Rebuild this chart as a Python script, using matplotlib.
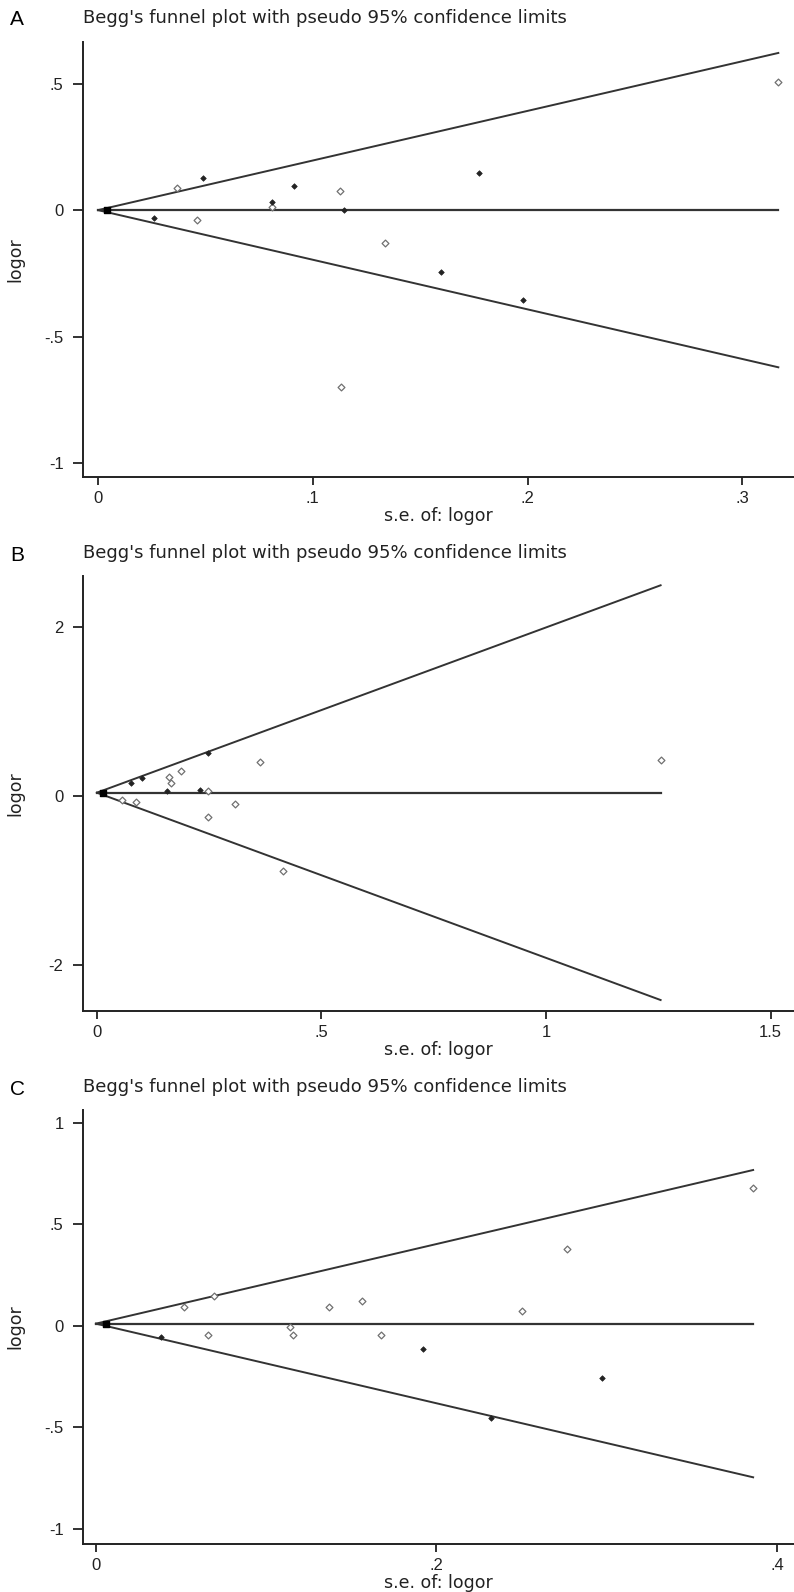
import numpy as np
import matplotlib
matplotlib.use("Agg")
import matplotlib.pyplot as plt

plt.rcParams['font.family'] = ['Liberation Sans', 'DejaVu Sans']

# panel A: study s.e. and log odds ratios
a_se_open = [0.0366, 0.0459, 0.0808, 0.1126, 0.1133, 0.1336, 0.3167]
a_lor_open = [0.089, -0.039, 0.013, 0.075, -0.698, -0.130, 0.507]
a_se_dark = [0.0262, 0.0487, 0.0808, 0.0912, 0.1146, 0.1596, 0.1773, 0.198]
a_lor_dark = [-0.033, 0.128, 0.033, 0.095, 0.0, -0.244, 0.147, -0.356]
a_apex = (0.004, 0.0)
a_pooled = 0.0

# panel B
b_se_open = [0.0564, 0.088, 0.161, 0.166, 0.187, 0.248, 0.248, 0.308, 0.363, 0.414, 1.255]
b_lor_open = [-0.048, -0.075, 0.23, 0.15, 0.297, 0.063, -0.246, -0.095, 0.408, -0.89, 0.43]
b_se_dark = [0.0757, 0.0995, 0.157, 0.229, 0.248]
b_lor_dark = [0.15, 0.21, 0.063, 0.07, 0.507]
b_apex = (0.014, 0.04)
b_pooled = 0.04

# panel C
c_se_open = [0.052, 0.066, 0.0696, 0.1137, 0.1157, 0.137, 0.156, 0.1676, 0.2504, 0.2765, 0.386]
c_lor_open = [0.094, -0.046, 0.146, -0.005, -0.046, 0.094, 0.123, -0.046, 0.074, 0.376, 0.68]
c_se_dark = [0.038, 0.192, 0.2318, 0.297]
c_lor_dark = [-0.054, -0.115, -0.453, -0.259]
c_apex = (0.006, 0.01)
c_pooled = 0.01

W, H = 794, 1592
ink = '#222222'

panels = [
    dict(tag='A', so=a_se_open, lo=a_lor_open, sd=a_se_dark, ld=a_lor_dark, apex=a_apex,
         pooled=a_pooled, xlim=(-0.007, 0.324), ylim=(-1.054, 0.664),
         xt=[0, .1, .2, .3], xtl=['0', '.1', '.2', '.3'],
         yt=[-1, -.5, 0, .5], ytl=['-1', '-.5', '0', '.5'],
         top=42, bottom=477, tag_y=25, title_y=23),
    dict(tag='B', so=b_se_open, lo=b_lor_open, sd=b_se_dark, ld=b_lor_dark, apex=b_apex,
         pooled=b_pooled, xlim=(-0.031, 1.552), ylim=(-2.55, 2.61),
         xt=[0, .5, 1, 1.5], xtl=['0', '.5', '1', '1.5'],
         yt=[-2, 0, 2], ytl=['-2', '0', '2'],
         top=576, bottom=1011, tag_y=561, title_y=558),
    dict(tag='C', so=c_se_open, lo=c_lor_open, sd=c_se_dark, ld=c_lor_dark, apex=c_apex,
         pooled=c_pooled, xlim=(-0.0076, 0.41), ylim=(-1.075, 1.062),
         xt=[0, .2, .4], xtl=['0', '.2', '.4'],
         yt=[-1, -.5, 0, .5, 1], ytl=['-1', '-.5', '0', '.5', '1'],
         top=1110, bottom=1544, tag_y=1095, title_y=1092),
]

fig = plt.figure(figsize=(W / 100, H / 100), dpi=100)
left = 83

for p in panels:
    ax = fig.add_axes([left / W, 1 - p['bottom'] / H, 1 - left / W, (p['bottom'] - p['top']) / H])
    all_se = p['so'] + p['sd']
    smax = max(all_se)
    s = np.array([0, smax])
    # pseudo 95% limits around the pooled estimate
    ax.plot(s, p['pooled'] + 1.96 * s, color='#333333', lw=1.4, clip_on=False)
    ax.plot(s, p['pooled'] - 1.96 * s, color='#333333', lw=1.4, clip_on=False)
    ax.plot(s, [p['pooled'], p['pooled']], color='#333333', lw=1.6, clip_on=False)
    ax.scatter(p['so'], p['lo'], marker='D', s=12, facecolor='white',
               edgecolor='#707070', linewidth=0.9, zorder=3, clip_on=False)
    ax.scatter(p['sd'], p['ld'], marker='D', s=8, facecolor='#222222',
               edgecolor='#222222', linewidth=0.5, zorder=3, clip_on=False)
    ax.scatter([p['apex'][0]], [p['apex'][1]], marker='s', s=22, color='black', zorder=4, clip_on=False)

    ax.set_xlim(*p['xlim'])
    ax.set_ylim(*p['ylim'])
    ax.set_xticks(p['xt'])
    ax.set_xticklabels(p['xtl'])
    ax.set_yticks(p['yt'])
    ax.set_yticklabels(p['ytl'])
    for side in ['top', 'right']:
        ax.spines[side].set_visible(False)
    for side in ['left', 'bottom']:
        ax.spines[side].set_linewidth(1.4)
        ax.spines[side].set_color(ink)
    ax.tick_params(axis='x', direction='out', length=6, width=1.3, labelsize=12, colors=ink, pad=4)
    ax.tick_params(axis='y', direction='out', length=7, width=1.3, labelsize=12, colors=ink, pad=7)
    ax.set_xlabel('s.e. of: logor', fontsize=12.5, labelpad=1, color=ink, family='DejaVu Sans')
    ax.set_ylabel('logor', fontsize=12.5, color=ink, family='DejaVu Sans')
    ax.yaxis.set_label_coords(-0.082, 0.5)

    fig.text(left / W, 1 - p['title_y'] / H, "Begg's funnel plot with pseudo 95% confidence limits",
             fontsize=13, color=ink, family='DejaVu Sans', ha='left', va='baseline')
    fig.text(10 / W, 1 - p['tag_y'] / H, p['tag'], fontsize=15, color='black',
             ha='left', va='baseline')

fig.savefig('out.png', dpi=100)
